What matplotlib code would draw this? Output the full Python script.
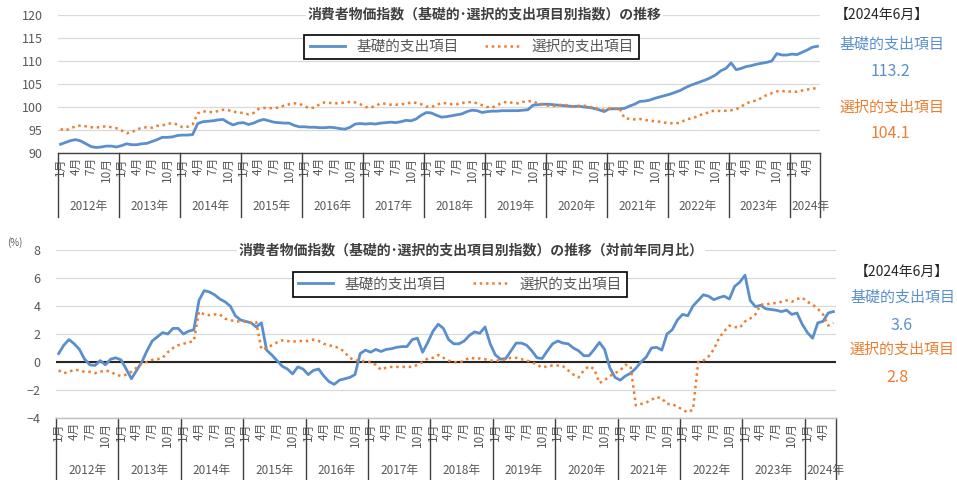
import matplotlib
matplotlib.use('Agg')
import matplotlib.pyplot as plt
plt.ioff()

plt.rcParams['font.family'] = ['Noto Sans CJK JP', 'DejaVu Sans']

years = list(range(2012, 2025))
tick_month_offsets = [0, 3, 6, 9]   # 1月,4月,7月,10月

# index (2020=100), Jan 2012 .. Jun 2024
kiso_idx = [
    91.9, 92.3, 92.7, 92.9, 92.6, 92.0, 91.4, 91.2, 91.3, 91.5, 91.5, 91.3,
    91.6, 92.0, 91.8, 91.8, 92.0, 92.1, 92.5, 92.9, 93.4, 93.4, 93.5, 93.8,
    93.9, 93.9, 94.0, 96.4, 96.8, 96.9, 97.0, 97.2, 97.3, 96.6, 96.1, 96.5,
    96.6, 96.2, 96.5, 97.0, 97.3, 97.0, 96.7, 96.6, 96.5, 96.5, 96.0, 95.7,
    95.7, 95.6, 95.6, 95.5, 95.5, 95.6, 95.5, 95.3, 95.2, 95.6, 96.3, 96.4,
    96.3, 96.4, 96.3, 96.5, 96.6, 96.7, 96.6, 96.8, 97.1, 97.0, 97.4, 98.2,
    98.8, 98.7, 98.2, 97.8, 97.9, 98.1, 98.3, 98.5, 99.0, 99.3, 99.2, 98.8,
    99.0, 99.1, 99.1, 99.2, 99.2, 99.2, 99.2, 99.3, 99.4, 100.4, 100.5, 100.6,
    100.6, 100.5, 100.4, 100.3, 100.2, 100.1, 100.2, 100.0, 99.9, 99.7, 99.4, 99.0,
    99.6, 99.6, 99.6, 99.7, 100.2, 100.6, 101.2, 101.3, 101.5, 101.9, 102.2, 102.5,
    102.8, 103.2, 103.6, 104.2, 104.7, 105.1, 105.5, 105.9, 106.4, 107.0, 107.9, 108.4,
    109.6, 108.1, 108.4, 108.8, 109.0, 109.3, 109.5, 109.7, 110.0, 111.6, 111.3, 111.3,
    111.5, 111.4, 111.9, 112.4, 113.0, 113.2,
]
sentaku_idx = [
    95.2, 94.9, 95.4, 95.8, 96.0, 95.8, 95.6, 95.5, 95.7, 95.8, 95.6, 95.4,
    94.9, 94.3, 94.5, 95.1, 95.5, 95.6, 95.5, 95.9, 96.0, 96.3, 96.5, 96.2,
    95.6, 95.7, 96.2, 98.6, 99.1, 98.9, 98.9, 99.1, 99.4, 99.3, 99.0, 98.8,
    98.7, 98.4, 98.7, 99.6, 99.8, 99.8, 99.7, 99.9, 100.3, 100.6, 100.8, 100.7,
    100.2, 99.7, 99.9, 100.6, 101.0, 100.9, 100.8, 100.8, 101.0, 101.1, 101.0, 100.6,
    100.0, 99.9, 100.2, 100.8, 100.7, 100.5, 100.5, 100.6, 100.7, 101.0, 100.9, 100.6,
    100.1, 100.0, 100.4, 100.9, 100.8, 100.6, 100.6, 100.9, 101.0, 101.1, 100.8, 100.4,
    100.0, 99.9, 100.4, 101.0, 101.1, 100.9, 100.8, 101.1, 101.3, 101.2, 100.8, 100.6,
    100.3, 100.2, 100.4, 100.5, 100.3, 100.1, 100.2, 100.3, 100.1, 99.8, 99.5, 99.4,
    99.6, 99.6, 99.8, 97.6, 97.4, 97.3, 97.4, 97.2, 97.0, 96.9, 96.8, 96.6,
    96.5, 96.4, 96.6, 97.2, 97.5, 97.8, 98.3, 98.6, 99.1, 99.2, 99.1, 99.2,
    99.3, 99.5, 100.1, 100.8, 101.2, 101.4, 102.0, 102.6, 103.0, 103.4, 103.5, 103.3,
    103.4, 103.3, 103.6, 103.8, 104.0, 104.1,
]

# year-on-year change (%)
kiso_yoy = [
    0.6, 1.2, 1.6, 1.3, 0.9, 0.2, -0.2, -0.25, 0.1, -0.2, 0.2, 0.3,
    0.15, -0.5, -1.2, -0.6, 0.0, 0.8, 1.5, 1.8, 2.1, 2.0, 2.4, 2.4,
    2.0, 2.2, 2.3, 4.4, 5.1, 5.0, 4.8, 4.5, 4.3, 4.0, 3.3, 3.0,
    2.9, 2.8, 2.5, 2.8, 0.85, 0.5, 0.1, -0.3, -0.5, -0.85, -0.35, -0.5,
    -0.9, -0.6, -0.5, -1.0, -1.4, -1.6, -1.3, -1.2, -1.1, -0.9, 0.6, 0.85,
    0.7, 0.9, 0.75, 0.9, 0.95, 1.05, 1.1, 1.1, 1.6, 1.7, 0.7, 1.4,
    2.2, 2.7, 2.4, 1.6, 1.3, 1.3, 1.5, 1.9, 2.15, 2.05, 2.5, 1.3,
    0.5, 0.2, 0.25, 0.8, 1.35, 1.35, 1.2, 0.8, 0.3, 0.25, 0.8, 1.3,
    1.5, 1.35, 1.3, 1.0, 0.8, 0.45, 0.45, 0.9, 1.4, 0.9, -0.4, -1.1,
    -1.3, -1.0, -0.8, -0.45, 0.0, 0.35, 1.0, 1.05, 0.85, 2.0, 2.3, 3.0,
    3.4, 3.3, 4.0, 4.4, 4.8, 4.7, 4.45, 4.6, 4.7, 4.5, 5.4, 5.7,
    6.2, 4.4, 3.95, 4.05, 3.8, 3.75, 3.7, 3.6, 3.7, 3.4, 3.5, 2.7,
    2.1, 1.7, 2.8, 2.9, 3.5, 3.6,
]
sentaku_yoy = [
    -0.6, -0.8, -0.7, -0.55, -0.6, -0.7, -0.7, -0.8, -0.7, -0.6, -0.7, -0.9,
    -1.0, -0.9, -0.7, -0.4, -0.1, 0.0, 0.15, 0.2, 0.3, 0.7, 1.0, 1.2,
    1.3, 1.4, 1.5, 3.6, 3.4, 3.35, 3.4, 3.4, 3.1, 3.0, 2.9, 2.9,
    2.9, 2.8, 2.85, 0.9, 1.0, 1.2, 1.4, 1.55, 1.5, 1.45, 1.5, 1.5,
    1.5, 1.6, 1.5, 1.3, 1.2, 1.1, 1.0, 0.7, 0.3, 0.1, 0.1, 0.0,
    0.0, -0.2, -0.55, -0.4, -0.35, -0.35, -0.35, -0.35, -0.35, -0.2, 0.0, 0.25,
    0.3, 0.5, 0.3, 0.1, 0.0, -0.05, 0.1, 0.3, 0.25, 0.25, 0.2, 0.1,
    0.1, 0.1, 0.2, 0.3, 0.3, 0.2, 0.1, 0.0, -0.2, -0.4, -0.3, -0.25,
    -0.25, -0.3, -0.6, -0.9, -1.1, -0.6, -0.3, -0.5, -1.5, -1.3, -1.0, -0.8,
    -0.6, -0.2, -0.3, -3.1, -3.0, -2.9, -2.7, -2.5, -2.6, -3.0, -3.0, -3.2,
    -3.4, -3.6, -3.4, 0.0, 0.1, 0.4, 0.9, 1.7, 2.2, 2.6, 2.5, 2.45,
    2.9, 3.1, 3.4, 4.1, 4.1, 4.2, 4.2, 4.3, 4.4, 4.3, 4.5, 4.6,
    4.3, 4.1, 3.8, 3.4, 2.6, 2.8,
]

latest_label = "【2024年6月】"
name_kiso = "基礎的支出項目"
name_sentaku = "選択的支出項目"
title_top = "消費者物価指数（基礎的･選択的支出項目別指数）の推移"
title_bottom = "消費者物価指数（基礎的･選択的支出項目別指数）の推移（対前年同月比）"

BLUE = '#5B8FCC'
ORANGE = '#ED7D31'
GRAY = '#595959'
W, H = 957, 480


def px_axes(fig, x0, y0, x1, y1):
    return fig.add_axes([x0 / W, 1 - y1 / H, (x1 - x0) / W, (y1 - y0) / H])


def category_axis(ax, n, sep_depth, year_y):
    ax.set_xlim(-0.5, n - 0.5)
    ticks = [i for i in range(n) if i % 12 in tick_month_offsets]
    ax.set_xticks(ticks)
    ax.set_xticklabels(["{}月".format(i % 12 + 1) for i in ticks], rotation=90,
                       fontsize=8.5, color=GRAY)
    ax.tick_params(axis='x', length=0, pad=3)
    trans = ax.get_xaxis_transform()
    bounds = list(range(0, n, 12)) + [n]
    for b in bounds:
        ax.plot([b - 0.5, b - 0.5], [0, -sep_depth], transform=trans,
                color='#404040', lw=1, clip_on=False)
    for k, y in enumerate(years):
        start = 12 * k
        end = min(start + 12, n)
        if end - start < 12:
            ax.text(start - 0.2, year_y, "{}年".format(y), transform=trans,
                    ha='left', va='center', fontsize=8.5, color=GRAY)
        else:
            ax.text((start + end - 1) / 2, year_y, "{}年".format(y), transform=trans,
                    ha='center', va='center', fontsize=8.5, color=GRAY)


def style_axes(ax):
    for s in ['top', 'right', 'left']:
        ax.spines[s].set_visible(False)
    ax.spines['bottom'].set_color('#404040')
    ax.spines['bottom'].set_linewidth(1)
    ax.grid(axis='y', color='#D9D9D9', lw=0.9)
    ax.set_axisbelow(True)
    ax.tick_params(axis='y', length=0, pad=11, labelsize=9, labelcolor=GRAY)


fig = plt.figure(figsize=(W / 100, H / 100), dpi=100)
n = len(kiso_idx)
x = list(range(n))

# top: index
ax1 = px_axes(fig, 58, 15, 820, 153)
style_axes(ax1)
ax1.plot(x, kiso_idx, color=BLUE, lw=2, label=name_kiso)
ax1.plot(x, sentaku_idx, color=ORANGE, lw=1.8, ls=(0, (1, 1.5)), label=name_sentaku)
ax1.set_ylim(90, 120)
ax1.set_yticks(range(90, 121, 5))
category_axis(ax1, n, 0.465, -0.39)
ax1.text(0.56, 1.0, title_top, transform=ax1.transAxes, ha='center', va='center',
         fontsize=10, fontweight='bold', color='#404040',
         bbox=dict(facecolor='white', edgecolor='none', pad=1))
leg = ax1.legend(loc='center', bbox_to_anchor=(0.543, 0.77), ncol=2, fontsize=10.5,
                 frameon=True, fancybox=False, edgecolor='black', framealpha=1,
                 columnspacing=1.8, handlelength=2.4, borderpad=0.35)
leg.get_frame().set_linewidth(1.2)
for t in leg.get_texts():
    t.set_color(GRAY)

# bottom: year-on-year
ax2 = px_axes(fig, 56, 250, 836, 418)
style_axes(ax2)
ax2.axhline(0, color='#262626', lw=1.5, zorder=1)
ax2.plot(x, kiso_yoy, color=BLUE, lw=2, label=name_kiso, zorder=3)
ax2.plot(x, sentaku_yoy, color=ORANGE, lw=1.8, ls=(0, (1, 1.5)), label=name_sentaku, zorder=3)
ax2.set_ylim(-4, 8)
ax2.set_yticks(range(-4, 9, 2))
ax2.spines['bottom'].set_color('#BFBFBF')
category_axis(ax2, n, 0.37, -0.31)
ax2.text(0.532, 1.0, title_bottom, transform=ax2.transAxes, ha='center', va='center',
         fontsize=10, fontweight='bold', color='#404040',
         bbox=dict(facecolor='white', edgecolor='none', pad=1))
leg2 = ax2.legend(loc='center', bbox_to_anchor=(0.518, 0.795), ncol=2, fontsize=10.5,
                  frameon=True, fancybox=False, edgecolor='black', framealpha=1,
                  columnspacing=1.8, handlelength=2.4, borderpad=0.35)
leg2.get_frame().set_linewidth(1.2)
for t in leg2.get_texts():
    t.set_color(GRAY)

fig.text(15 / W, 1 - 243 / H, "(%)", fontsize=7, color=GRAY, ha='center', va='center')

# latest values on the right
def side_text(xp, yp, s, color, size=10.8):
    fig.text(xp / W, 1 - yp / H, s, ha='center', va='center', fontsize=size, color=color)

side_text(882, 15, latest_label, '#262626', 10)
side_text(892, 45, name_kiso, BLUE)
side_text(890, 72, "{:.1f}".format(kiso_idx[-1]), BLUE, 11.5)
side_text(892, 108, name_sentaku, ORANGE)
side_text(890, 133, "{:.1f}".format(sentaku_idx[-1]), ORANGE, 11.5)

side_text(902, 272, latest_label, '#262626', 10)
side_text(903, 298, name_kiso, BLUE)
side_text(902, 325, "{:.1f}".format(kiso_yoy[-1]), BLUE, 11.5)
side_text(902, 350, name_sentaku, ORANGE)
side_text(897, 377, "{:.1f}".format(sentaku_yoy[-1]), ORANGE, 11.5)

fig.savefig("out.png", dpi=100)
